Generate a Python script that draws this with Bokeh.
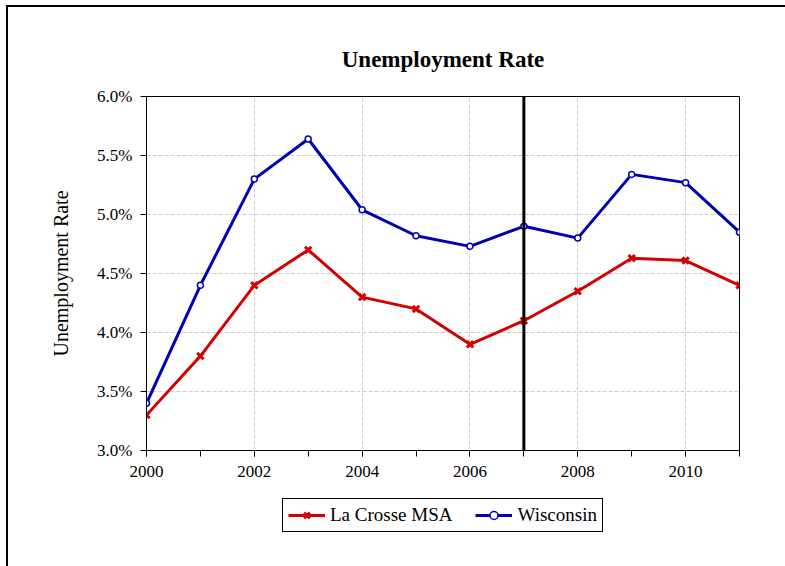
from bokeh.plotting import figure
from bokeh.layouts import column
from bokeh.models import (FixedTicker, PrintfTickFormatter, Span, Legend, LegendItem, Range1d)
from bokeh.embed import file_html
from bokeh.resources import INLINE

years = [2000, 2001, 2002, 2003, 2004, 2005, 2006, 2007, 2008, 2009, 2010, 2011]
la_crosse = [3.3, 3.8, 4.4, 4.7, 4.3, 4.2, 3.9, 4.1, 4.35, 4.63, 4.61, 4.4]
wisconsin = [3.4, 4.4, 5.3, 5.64, 5.04, 4.82, 4.73, 4.9, 4.8, 5.34, 5.27, 4.85]
series_names = ["La Crosse MSA", "Wisconsin"]
x_major = [2000, 2002, 2004, 2006, 2008, 2010]
y_major = [3.0, 3.5, 4.0, 4.5, 5.0, 5.5, 6.0]
marker_year = 2007

FONT = "Liberation Serif"
red = "#d40000"
blue = "#0000b4"


def draw_series(fig):
    r1 = fig.line(years, la_crosse, line_color=red, line_width=3)
    r1s = fig.scatter(years, la_crosse, marker="x", size=9, line_color=red, line_width=3)
    r2 = fig.line(years, wisconsin, line_color=blue, line_width=3)
    r2s = fig.scatter(years, wisconsin, marker="circle", size=6, line_color=blue,
                      fill_color="white", line_width=1.5)
    return [r1, r1s], [r2, r2s]


p = figure(frame_width=593, frame_height=354, output_backend="svg", toolbar_location=None,
           x_range=Range1d(2000, 2011), y_range=Range1d(3.0, 6.0),
           min_border_left=138, min_border_right=46, min_border_top=89, min_border_bottom=42)

p.title.text = "Unemployment Rate"
p.title.align = "center"
p.title.text_font = FONT
p.title.text_font_size = "23px"
p.title.text_font_style = "bold"
p.title.text_color = "black"
p.title.standoff = 49

p.outline_line_color = "black"
p.outline_line_width = 1
p.background_fill_color = "white"
p.border_fill_color = "white"

# axes
p.xaxis.ticker = FixedTicker(ticks=x_major, minor_ticks=years)
p.yaxis.ticker = FixedTicker(ticks=y_major, minor_ticks=[])
p.yaxis.formatter = PrintfTickFormatter(format="%.1f%%")
for ax in (p.xaxis[0], p.yaxis[0]):
    ax.axis_line_color = "black"
    ax.major_tick_line_color = "black"
    ax.major_tick_in = 0
    ax.major_tick_out = 6
    ax.minor_tick_in = 0
    ax.minor_tick_out = 6
    ax.minor_tick_line_color = "black"
    ax.major_label_text_font = FONT
    ax.major_label_text_font_size = "17px"
    ax.major_label_text_color = "black"
p.yaxis.major_label_standoff = 8
p.xaxis.major_label_standoff = 9
p.yaxis.minor_tick_line_color = None
p.yaxis.axis_label = "Unemployment Rate"
p.yaxis.axis_label_text_font = FONT
p.yaxis.axis_label_text_font_size = "20px"
p.yaxis.axis_label_text_font_style = "normal"
p.yaxis.axis_label_text_color = "black"
p.yaxis.axis_label_standoff = 22

p.xgrid.grid_line_color = "#cccccc"
p.xgrid.grid_line_dash = "4 2"
p.ygrid.grid_line_color = "#cccccc"
p.ygrid.grid_line_dash = "4 2"

# vertical marker line
p.add_layout(Span(location=marker_year, dimension="height", line_color="black", line_width=3))

draw_series(p)

# legend strip below the chart; its series lie outside its (empty) view
q = figure(width=777, height=74, output_backend="svg", toolbar_location=None,
           min_border=0, x_range=Range1d(0, 1), y_range=Range1d(0, 1))
q.axis.visible = False
q.grid.visible = False
q.outline_line_color = None
q.background_fill_color = "white"
q.border_fill_color = "white"
rs1, rs2 = draw_series(q)
legend = Legend(items=[LegendItem(label=series_names[0], renderers=rs1),
                       LegendItem(label=series_names[1], renderers=rs2)],
                orientation="horizontal", location=(136, 34),
                label_text_font=FONT, label_text_font_size="19px",
                label_text_color="black",
                border_line_color="black", border_line_width=1, border_line_alpha=1,
                padding=5, spacing=23, glyph_width=37, label_standoff=5,
                margin=0)
q.add_layout(legend, "center")

layout = column(p, q, spacing=0)
layout.styles = {"border-top": "2px solid black", "border-left": "2px solid black",
                 "margin-left": "6px", "margin-top": "5px"}

open("out.html", "w").write(file_html(layout, INLINE))
